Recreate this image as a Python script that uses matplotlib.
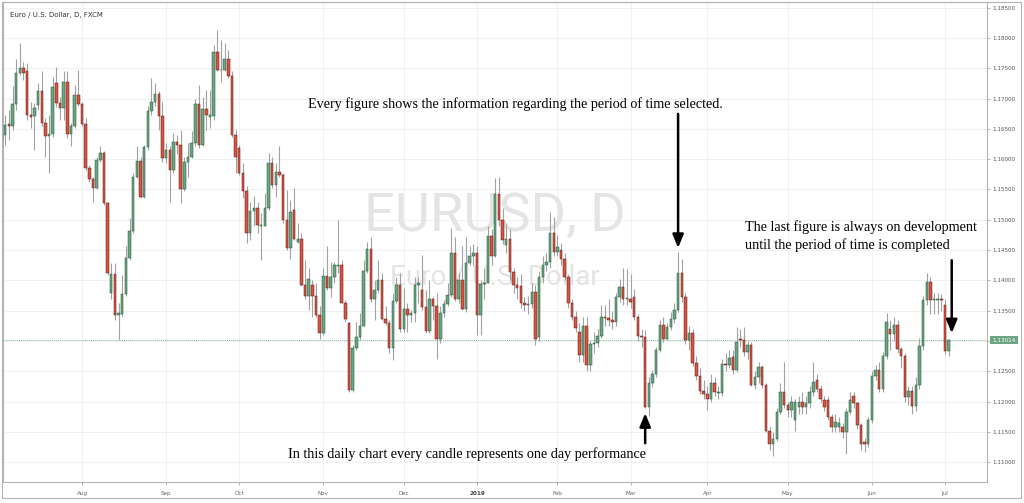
import numpy as np
import pandas as pd
import matplotlib
matplotlib.use("Agg")
import matplotlib.pyplot as plt
from matplotlib.patches import Rectangle
import matplotlib.transforms as mtransforms

# ---------------- data (EUR/USD daily) ----------------
dates = pd.bdate_range("2018-07-02", "2019-07-02")
dates = dates[~dates.isin(pd.to_datetime(["2018-12-25", "2019-01-01"]))]

opens = [
 1.1630,1.1640,1.1658,1.1655,1.1691,1.1742,1.1750,1.1745,1.1673,1.1671,
 1.1690,1.1713,1.1660,1.1638,1.1641,1.1725,1.1693,1.1684,1.1727,1.1642,
 1.1655,1.1706,1.1691,1.1658,1.1585,1.1567,1.1553,1.1599,1.1610,1.1527,
 1.1380,1.1410,1.1343,1.1345,1.1377,1.1437,1.1482,1.1571,1.1597,1.1538,
 1.1620,1.1679,1.1695,1.1707,1.1671,1.1602,1.1615,1.1582,1.1629,1.1624,
 1.1551,1.1596,1.1604,1.1626,1.1691,1.1624,1.1683,1.1669,1.1671,1.1777,
 1.1748,1.1748,1.1765,1.1737,1.1640,1.1618,1.1578,1.1547,1.1478,1.1514,
 1.1520,1.1490,1.1490,1.1519,1.1593,1.1557,1.1579,1.1574,1.1500,1.1453,
 1.1516,1.1464,1.1469,1.1392,1.1374,1.1392,1.1374,1.1343,1.1313,1.1407,
 1.1387,1.1406,1.1423,1.1425,1.1363,1.1330,1.1219,1.1288,1.1307,1.1325,
 1.1416,1.1452,1.1369,1.1384,1.1401,1.1337,1.1329,1.1288,1.1366,1.1392,
 1.1319,1.1352,1.1343,1.1346,1.1392,1.1384,1.1356,1.1317,1.1369,1.1357,
 1.1303,1.1347,1.1361,1.1376,1.1446,1.1369,1.1400,1.1352,1.1429,1.1440,
 1.1445,1.1343,1.1394,1.1396,1.1473,1.1440,1.1543,1.1499,1.1458,1.1468,
 1.1414,1.1392,1.1390,1.1362,1.1359,1.1361,1.1381,1.1306,1.1406,1.1425,
 1.1431,1.1479,1.1447,1.1450,1.1436,1.1405,1.1362,1.1340,1.1315,1.1277,
 1.1325,1.1260,1.1295,1.1297,1.1309,1.1340,1.1338,1.1335,1.1331,1.1373,
 1.1389,1.1370,1.1370,1.1372,1.1340,1.1308,1.1306,1.1191,1.1230,1.1246,
 1.1285,1.1326,1.1304,1.1323,1.1336,1.1351,1.1413,1.1373,1.1302,1.1313,
 1.1264,1.1243,1.1218,1.1213,1.1205,1.1231,1.1214,1.1214,1.1262,1.1261,
 1.1273,1.1252,1.1303,1.1301,1.1282,1.1293,1.1227,1.1240,1.1257,1.1227,
 1.1152,1.1130,1.1139,1.1183,1.1215,1.1194,1.1186,1.1170,1.1191,1.1199,
 1.1191,1.1197,1.1215,1.1235,1.1221,1.1203,1.1202,1.1175,1.1158,1.1158,
 1.1158,1.1150,1.1183,1.1209,1.1197,1.1161,1.1133,1.1130,1.1169,1.1243,
 1.1252,1.1221,1.1276,1.1320,1.1312,1.1326,1.1287,1.1276,1.1207,1.1218,
 1.1193,1.1227,1.1291,1.1368,1.1397,1.1368,1.1368,1.1369,1.1360,1.1283]

highs = [
 1.1650,1.1673,1.1681,1.1720,1.1766,1.1791,1.1761,1.1758,1.1695,1.1692,
 1.1725,1.1745,1.1668,1.1673,1.1736,1.1752,1.1703,1.1745,1.1745,1.1659,
 1.1723,1.1747,1.1695,1.1668,1.1591,1.1571,1.1604,1.1621,1.1613,1.1530,
 1.1429,1.1429,1.1363,1.1409,1.1456,1.1503,1.1577,1.1621,1.1604,1.1624,
 1.1687,1.1734,1.1725,1.1712,1.1695,1.1626,1.1621,1.1643,1.1640,1.1648,
 1.1604,1.1626,1.1646,1.1700,1.1723,1.1703,1.1714,1.1714,1.1788,1.1813,
 1.1797,1.1791,1.1780,1.1745,1.1648,1.1624,1.1593,1.1555,1.1529,1.1540,
 1.1530,1.1511,1.1544,1.1610,1.1604,1.1593,1.1621,1.1577,1.1549,1.1533,
 1.1552,1.1494,1.1478,1.1434,1.1420,1.1401,1.1395,1.1357,1.1420,1.1456,
 1.1431,1.1431,1.1500,1.1434,1.1368,1.1332,1.1293,1.1332,1.1346,1.1434,
 1.1464,1.1472,1.1401,1.1434,1.1412,1.1357,1.1335,1.1379,1.1406,1.1412,
 1.1387,1.1362,1.1351,1.1406,1.1406,1.1442,1.1384,1.1401,1.1373,1.1379,
 1.1357,1.1368,1.1395,1.1486,1.1472,1.1412,1.1456,1.1472,1.1456,1.1460,
 1.1456,1.1401,1.1420,1.1489,1.1485,1.1569,1.1570,1.1520,1.1495,1.1485,
 1.1420,1.1405,1.1410,1.1372,1.1375,1.1395,1.1392,1.1415,1.1440,1.1445,
 1.1513,1.1505,1.1475,1.1462,1.1445,1.1410,1.1370,1.1350,1.1330,1.1340,
 1.1340,1.1300,1.1315,1.1320,1.1360,1.1360,1.1370,1.1350,1.1380,1.1402,
 1.1420,1.1418,1.1410,1.1385,1.1345,1.1320,1.1318,1.1241,1.1252,1.1290,
 1.1334,1.1340,1.1329,1.1348,1.1362,1.1447,1.1435,1.1380,1.1325,1.1320,
 1.1275,1.1255,1.1235,1.1225,1.1245,1.1240,1.1225,1.1270,1.1280,1.1285,
 1.1285,1.1323,1.1320,1.1323,1.1300,1.1298,1.1250,1.1265,1.1260,1.1230,
 1.1160,1.1150,1.1190,1.1230,1.1265,1.1200,1.1210,1.1205,1.1210,1.1215,
 1.1210,1.1225,1.1265,1.1245,1.1228,1.1210,1.1210,1.1180,1.1180,1.1175,
 1.1165,1.1190,1.1215,1.1215,1.1200,1.1165,1.1140,1.1175,1.1250,1.1260,
 1.1265,1.1282,1.1347,1.1335,1.1340,1.1335,1.1290,1.1280,1.1225,1.1225,
 1.1240,1.1305,1.1375,1.1412,1.1405,1.1380,1.1380,1.1378,1.1370,1.1303]

lows = [
 1.1610,1.1624,1.1632,1.1648,1.1681,1.1739,1.1731,1.1665,1.1651,1.1615,
 1.1681,1.1654,1.1604,1.1577,1.1637,1.1686,1.1665,1.1665,1.1635,1.1622,
 1.1651,1.1687,1.1654,1.1582,1.1563,1.1530,1.1551,1.1596,1.1525,1.1409,
 1.1369,1.1335,1.1302,1.1341,1.1374,1.1434,1.1478,1.1569,1.1536,1.1536,
 1.1615,1.1673,1.1687,1.1648,1.1596,1.1593,1.1530,1.1578,1.1608,1.1527,
 1.1547,1.1571,1.1602,1.1621,1.1618,1.1621,1.1648,1.1651,1.1665,1.1745,
 1.1728,1.1745,1.1734,1.1637,1.1577,1.1574,1.1536,1.1462,1.1467,1.1490,
 1.1478,1.1434,1.1489,1.1516,1.1552,1.1538,1.1571,1.1494,1.1450,1.1436,
 1.1467,1.1461,1.1390,1.1370,1.1351,1.1340,1.1340,1.1304,1.1310,1.1384,
 1.1373,1.1395,1.1412,1.1362,1.1332,1.1216,1.1216,1.1285,1.1302,1.1324,
 1.1412,1.1365,1.1335,1.1381,1.1335,1.1326,1.1280,1.1269,1.1362,1.1315,
 1.1315,1.1315,1.1332,1.1332,1.1362,1.1351,1.1313,1.1313,1.1335,1.1271,
 1.1296,1.1340,1.1357,1.1373,1.1366,1.1362,1.1351,1.1348,1.1425,1.1425,
 1.1310,1.1310,1.1370,1.1395,1.1425,1.1439,1.1490,1.1460,1.1445,1.1400,
 1.1380,1.1370,1.1355,1.1350,1.1345,1.1355,1.1293,1.1300,1.1395,1.1415,
 1.1420,1.1440,1.1440,1.1425,1.1400,1.1355,1.1335,1.1315,1.1265,1.1265,
 1.1250,1.1250,1.1280,1.1290,1.1305,1.1325,1.1325,1.1320,1.1325,1.1365,
 1.1360,1.1360,1.1355,1.1335,1.1300,1.1290,1.1189,1.1176,1.1224,1.1241,
 1.1282,1.1299,1.1301,1.1318,1.1330,1.1348,1.1365,1.1295,1.1285,1.1258,
 1.1235,1.1213,1.1205,1.1186,1.1200,1.1210,1.1205,1.1210,1.1250,1.1255,
 1.1245,1.1248,1.1290,1.1275,1.1270,1.1225,1.1220,1.1230,1.1222,1.1150,
 1.1120,1.1111,1.1135,1.1180,1.1190,1.1175,1.1175,1.1152,1.1180,1.1180,
 1.1180,1.1190,1.1210,1.1215,1.1200,1.1185,1.1170,1.1150,1.1150,1.1150,
 1.1140,1.1114,1.1180,1.1190,1.1155,1.1120,1.1116,1.1125,1.1165,1.1235,
 1.1215,1.1215,1.1270,1.1285,1.1300,1.1280,1.1255,1.1200,1.1195,1.1180,
 1.1185,1.1220,1.1285,1.1360,1.1345,1.1345,1.1345,1.1350,1.1278,1.1275]

closes = [
 1.1640,1.1657,1.1655,1.1691,1.1742,1.1750,1.1743,1.1673,1.1670,1.1685,
 1.1713,1.1660,1.1638,1.1641,1.1719,1.1693,1.1684,1.1727,1.1642,1.1655,
 1.1706,1.1691,1.1658,1.1585,1.1567,1.1553,1.1599,1.1610,1.1527,1.1412,
 1.1410,1.1343,1.1346,1.1377,1.1437,1.1482,1.1571,1.1597,1.1538,1.1620,
 1.1679,1.1695,1.1707,1.1671,1.1602,1.1615,1.1582,1.1629,1.1624,1.1551,
 1.1596,1.1604,1.1626,1.1691,1.1624,1.1683,1.1673,1.1673,1.1777,1.1748,
 1.1747,1.1765,1.1737,1.1640,1.1603,1.1578,1.1547,1.1478,1.1514,1.1519,
 1.1492,1.1491,1.1519,1.1593,1.1557,1.1579,1.1574,1.1500,1.1453,1.1513,
 1.1469,1.1469,1.1392,1.1374,1.1403,1.1374,1.1343,1.1313,1.1407,1.1387,
 1.1406,1.1425,1.1425,1.1363,1.1336,1.1219,1.1288,1.1307,1.1325,1.1416,
 1.1452,1.1369,1.1384,1.1401,1.1337,1.1329,1.1288,1.1366,1.1392,1.1319,
 1.1352,1.1343,1.1346,1.1392,1.1396,1.1356,1.1317,1.1369,1.1357,1.1303,
 1.1347,1.1361,1.1376,1.1446,1.1369,1.1400,1.1352,1.1429,1.1440,1.1445,
 1.1343,1.1394,1.1396,1.1473,1.1440,1.1543,1.1500,1.1467,1.1468,1.1414,
 1.1392,1.1388,1.1362,1.1359,1.1361,1.1381,1.1304,1.1406,1.1425,1.1431,
 1.1479,1.1447,1.1455,1.1436,1.1405,1.1362,1.1340,1.1321,1.1277,1.1324,
 1.1260,1.1295,1.1297,1.1309,1.1340,1.1338,1.1335,1.1331,1.1373,1.1389,
 1.1370,1.1370,1.1364,1.1340,1.1308,1.1306,1.1191,1.1230,1.1246,1.1285,
 1.1326,1.1304,1.1323,1.1336,1.1351,1.1413,1.1373,1.1302,1.1313,1.1264,
 1.1243,1.1218,1.1213,1.1205,1.1231,1.1216,1.1216,1.1262,1.1261,1.1272,
 1.1252,1.1298,1.1301,1.1282,1.1293,1.1227,1.1240,1.1257,1.1227,1.1152,
 1.1130,1.1139,1.1183,1.1215,1.1194,1.1186,1.1199,1.1199,1.1199,1.1191,
 1.1197,1.1215,1.1232,1.1221,1.1205,1.1191,1.1175,1.1158,1.1166,1.1165,
 1.1150,1.1183,1.1203,1.1197,1.1161,1.1130,1.1130,1.1169,1.1243,1.1252,
 1.1221,1.1276,1.1331,1.1312,1.1326,1.1287,1.1276,1.1207,1.1218,1.1193,
 1.1227,1.1291,1.1368,1.1397,1.1368,1.1368,1.1369,1.1368,1.1283,1.13014]

last_price_label = "1.13014"
title_text = "Euro / U.S. Dollar, D, FXCM"
watermark_main = "EURUSD, D"
watermark_sub = "Euro / U.S. Dollar"
note_top = "Every figure shows the information regarding the period of time selected."
note_right = "The last figure is always on development\nuntil the period of time is completed"
note_bottom = "In this daily chart every candle represents one day performance"
top_note_day = "2019-03-20"
bottom_note_day = "2019-03-07"
price_ticks = [1.110, 1.115, 1.120, 1.125, 1.130, 1.135, 1.140, 1.145,
               1.150, 1.155, 1.160, 1.165, 1.170, 1.175, 1.180, 1.185]

# ---------------- figure ----------------
W, H = 1024, 503
fig = plt.figure(figsize=(W / 100, H / 100), dpi=100)
fig.patch.set_facecolor("white")

ax_l, ax_r, ax_t, ax_b = 3, 987, 2, 482
ax = fig.add_axes([ax_l / W, (H - ax_b) / H, (ax_r - ax_l) / W, (ax_b - ax_t) / H])
ax.set_facecolor("white")

o = np.array(opens); h = np.array(highs); lo = np.array(lows); c = np.array(closes)
x = np.arange(len(o))
up = c >= o

ax.vlines(x, lo, h, color="#a2a2a2", lw=0.8, zorder=2)
bot = np.minimum(o, c)
hgt = np.maximum(np.abs(c - o), 0.00009)
ax.bar(x[up], hgt[up], bottom=bot[up], width=0.68, color="#6ba583",
       edgecolor="#225437", linewidth=0.35, zorder=3)
ax.bar(x[~up], hgt[~up], bottom=bot[~up], width=0.68, color="#d75442",
       edgecolor="#5b1a13", linewidth=0.35, zorder=3)

ax.set_xlim(0.4, 269.47)
ax.set_ylim(1.10673, 1.18594)

# month ticks
first_idx, labels = [], []
months = pd.Series(np.arange(len(dates)), index=dates)
for (yr, mo), grp in months.groupby([dates.year, dates.month]):
    i0 = int(grp.iloc[0])
    if i0 == 0:
        continue
    first_idx.append(i0)
    labels.append(str(yr) if mo == 1 else dates[i0].strftime("%b"))
ax.set_xticks(first_idx)
ax.set_xticklabels(labels, fontsize=4.1, color="#666666")
for t in ax.get_xticklabels():
    if t.get_text() == "2019":
        t.set_fontweight("bold")
        t.set_color("#444444")
ax.tick_params(axis="x", length=2, width=0.5, color="#999999", pad=4.5)

ax.yaxis.tick_right()
ax.set_yticks(price_ticks)
ax.set_yticklabels([f"{v:.5f}" for v in price_ticks], fontsize=4.1, color="#555555")
ax.tick_params(axis="y", length=2, width=0.5, color="#999999", pad=2)

ax.grid(True, color="#eef0f4", lw=0.7, zorder=0)
ax.set_axisbelow(True)
for s in ax.spines.values():
    s.set_color("#b4b4b4")
    s.set_linewidth(0.8)

# last price line
ax.axhline(c[-1], color="#6ba583", lw=0.7, ls=(0, (1, 1)), alpha=0.8, zorder=1)

# watermark
ax.text(0.5, 0.555, watermark_main, transform=ax.transAxes, ha="center", va="center",
        fontsize=39, family="Roboto", color="#e4e4e4", zorder=1)
ax.text(0.5, 0.428, watermark_sub, transform=ax.transAxes, ha="center", va="center",
        fontsize=20, family="Roboto", color="#e4e4e4", zorder=1)

# title
fig.text(10 / W, 1 - 15 / H, title_text, fontsize=5.0, color="#333333",
         ha="left", va="center")

# price label box
fig.text((ax_r + 17) / W, 1 - 340 / H, last_price_label, fontsize=4.1, color="white",
         ha="center", va="center",
         bbox=dict(boxstyle="square,pad=0.35", fc="#6ba583", ec="none"), zorder=10)

# notes
serif = "Liberation Serif"
fig.text(515 / W, 1 - 104 / H, note_top, ha="center", va="center",
         fontsize=10.2, family=serif, color="black")
fig.text(745 / W, 1 - 236 / H, note_right, ha="left", va="center",
         fontsize=10.2, family=serif, color="black", linespacing=1.45)
fig.text(467 / W, 1 - 454 / H, note_bottom, ha="center", va="center",
         fontsize=10.2, family=serif, color="black")

arrow = dict(arrowstyle="-|>,head_length=0.8,head_width=0.33", color="black",
             lw=1.8, shrinkA=0, shrinkB=0, mutation_scale=10)
i_top = dates.get_loc(pd.Timestamp(top_note_day))
i_bot = dates.get_loc(pd.Timestamp(bottom_note_day))
tr = lambda dx, dy: mtransforms.offset_copy(ax.transData, fig=fig, x=dx, y=dy, units="dots")
ax.annotate("", xy=(i_top, h[i_top]), xycoords=tr(0, 4),
            xytext=(i_top, h[i_top]), textcoords=tr(0, 138), arrowprops=arrow)
ax.annotate("", xy=(i_bot, lo[i_bot]), xycoords=tr(0, -5),
            xytext=(i_bot, lo[i_bot]), textcoords=tr(0, -35), arrowprops=arrow)
ax.annotate("", xy=(x[-1], h[-1]), xycoords=tr(3, 6),
            xytext=(x[-1], h[-1]), textcoords=tr(3, 79), arrowprops=arrow)

# outer frame
fig.patches.append(Rectangle((2 / W, 5 / H), (1021 - 2) / W, (H - 5.5 - 1) / H,
                             transform=fig.transFigure, fill=False,
                             ec="#b4b4b4", lw=0.8))

fig.savefig("out.png", dpi=100, facecolor="white")
